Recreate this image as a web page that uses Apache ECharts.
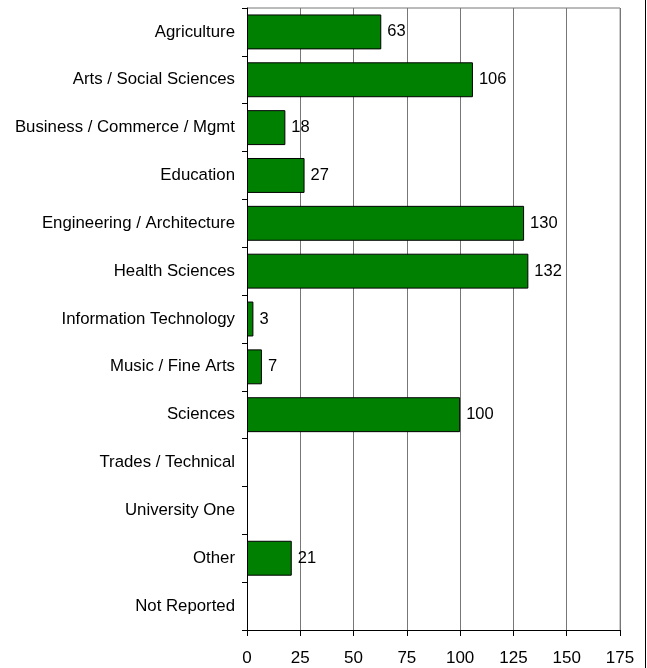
<!DOCTYPE html>
<html><head><meta charset="utf-8">
<script src="https://cdn.jsdelivr.net/npm/echarts@6/dist/echarts.min.js"></script>
<style>html,body{margin:0;padding:0;background:#fff}#c{width:647px;height:668px}</style>
</head><body><div id="c"></div>
<script>
const categories = ["Agriculture","Arts / Social Sciences","Business / Commerce / Mgmt","Education","Engineering / Architecture","Health Sciences","Information Technology","Music / Fine Arts","Sciences","Trades / Technical","University One","Other","Not Reported"];
const values = [63,106,18,27,130,132,3,7,100,null,null,21,null];
const xTicks = [0,25,50,75,100,125,150,175];

const F = 'Liberation Sans, Arial, sans-serif';
const chart = echarts.init(document.getElementById('c'));
chart.setOption({
  animation:false,
  grid:{left:247,right:27,top:8,bottom:38,containLabel:false},
  xAxis:{type:'value',min:xTicks[0],max:xTicks[xTicks.length-1],interval:25,
    axisLine:{show:true,lineStyle:{color:'#000',width:1}},
    axisTick:{show:true,length:6,lineStyle:{color:'#000'}},
    axisLabel:{color:'#000',fontFamily:F,fontSize:17,margin:20},
    splitLine:{show:true,lineStyle:{color:'#777',width:1}}},
  yAxis:{type:'category',data:categories,inverse:true,
    axisLine:{show:true,lineStyle:{color:'#000',width:1}},
    axisTick:{show:true,length:5,lineStyle:{color:'#000'}},
    axisLabel:{color:'#000',fontFamily:F,fontSize:16.8,margin:12}},
  series:[{type:'bar',data:values,barCategoryGap:'27%',
    itemStyle:{color:'#008000',borderColor:'#000',borderWidth:1},
    label:{show:true,position:'right',distance:6,color:'#000',fontFamily:F,fontSize:16.5}}],
  graphic:[
    {type:'line',shape:{x1:247,y1:8,x2:620,y2:8},style:{stroke:'#777',lineWidth:1}},
    {type:'line',shape:{x1:620,y1:8,x2:620,y2:630},style:{stroke:'#999',lineWidth:1}},
    {type:'line',shape:{x1:645.5,y1:0,x2:645.5,y2:668},style:{stroke:'#000',lineWidth:1}}
  ]
});
</script></body></html>
